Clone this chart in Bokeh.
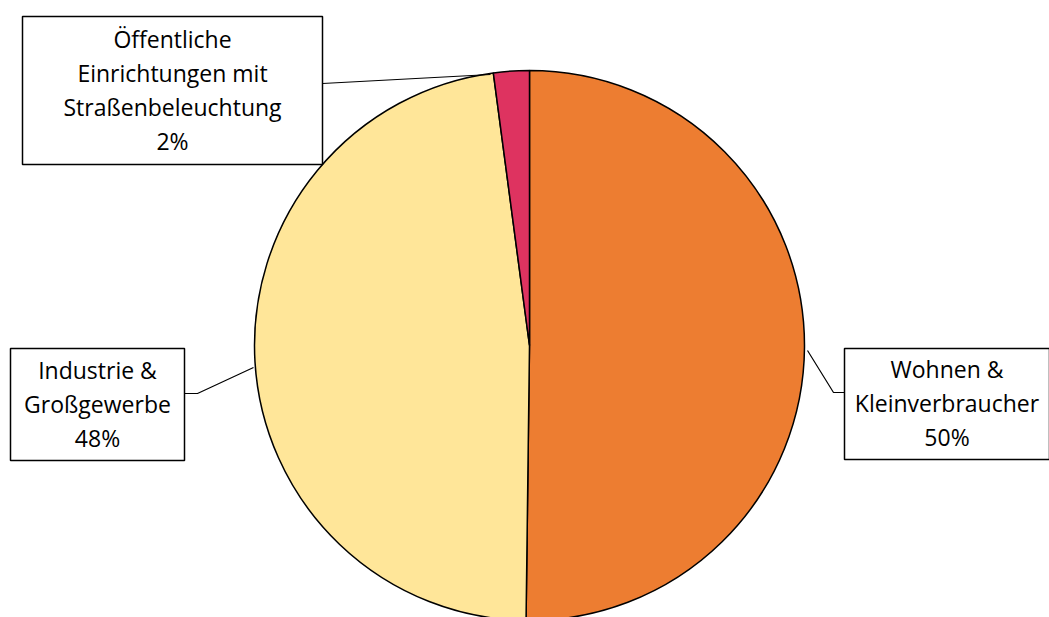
import math
from bokeh.plotting import figure
from bokeh.models import Range1d, ColumnDataSource
from bokeh.core.properties import value
from bokeh.embed import file_html
from bokeh.resources import INLINE

# data
categories = ["Wohnen & Kleinverbraucher", "Industrie & Großgewerbe", "Öffentliche Einrichtungen mit Straßenbeleuchtung"]
shares = [50.2, 47.7, 2.1]
pct_labels = ["50%", "48%", "2%"]
label_lines = [
    ["Wohnen &", "Kleinverbraucher", "50%"],
    ["Industrie &", "Großgewerbe", "48%"],
    ["Öffentliche", "Einrichtungen mit", "Straßenbeleuchtung", "2%"],
]
colors = ["#ED7D31", "#FFE699", "#DE3360"]

W, H = 1049, 617
p = figure(width=W, height=H, output_backend="svg", toolbar_location=None,
           x_range=Range1d(0, W), y_range=Range1d(0, H), min_border=0)
p.axis.visible = False
p.grid.visible = False
p.outline_line_color = None
p.background_fill_color = "white"
p.border_fill_color = "white"

cx, cy, r = 529, H - 345, 275
total = sum(shares)
starts, ends = [], []
acc = 0.0
for s in shares:
    end = math.pi / 2 - 2 * math.pi * acc / total
    acc += s
    start = math.pi / 2 - 2 * math.pi * acc / total
    starts.append(start)
    ends.append(end)

src = ColumnDataSource(dict(start=starts, end=ends, color=colors, cat=categories))
p.wedge(x=cx, y=cy, radius=r, start_angle="start", end_angle="end",
        fill_color="color", line_color="black", line_width=1.5, source=src)

# label boxes (pixel layout: left, right, top, bottom)
boxes = [(844, 1049, 348, 459), (10, 184, 348, 460), (22, 322, 16, 164)]
leaders = [
    ([844, 833, 807], [392, 392, 350]),
    ([184, 197, 253], [393, 393, 367]),
    ([322, 490], [83, 74]),
]
for (l, rgt, t, b) in boxes:
    p.quad(left=l, right=rgt, top=H - t, bottom=H - b, fill_color="white",
           line_color="black", line_width=1.5)
for xs, ys in leaders:
    p.line(xs, [H - y for y in ys], line_color="black", line_width=1.2)

line_gap = 34
for (l, rgt, t, b), lines in zip(boxes, label_lines):
    xc = (l + rgt) / 2
    yc = (t + b) / 2
    n = len(lines)
    ys = [yc + (i - (n - 1) / 2) * line_gap - 1 for i in range(n)]
    p.text(x=[xc] * n, y=[H - y for y in ys], text=lines, text_align="center",
           text_baseline="middle", text_font=value("Open Sans"),
           text_font_size="23px", text_color="#000000")

open("out.html", "w").write(file_html(p, INLINE))
